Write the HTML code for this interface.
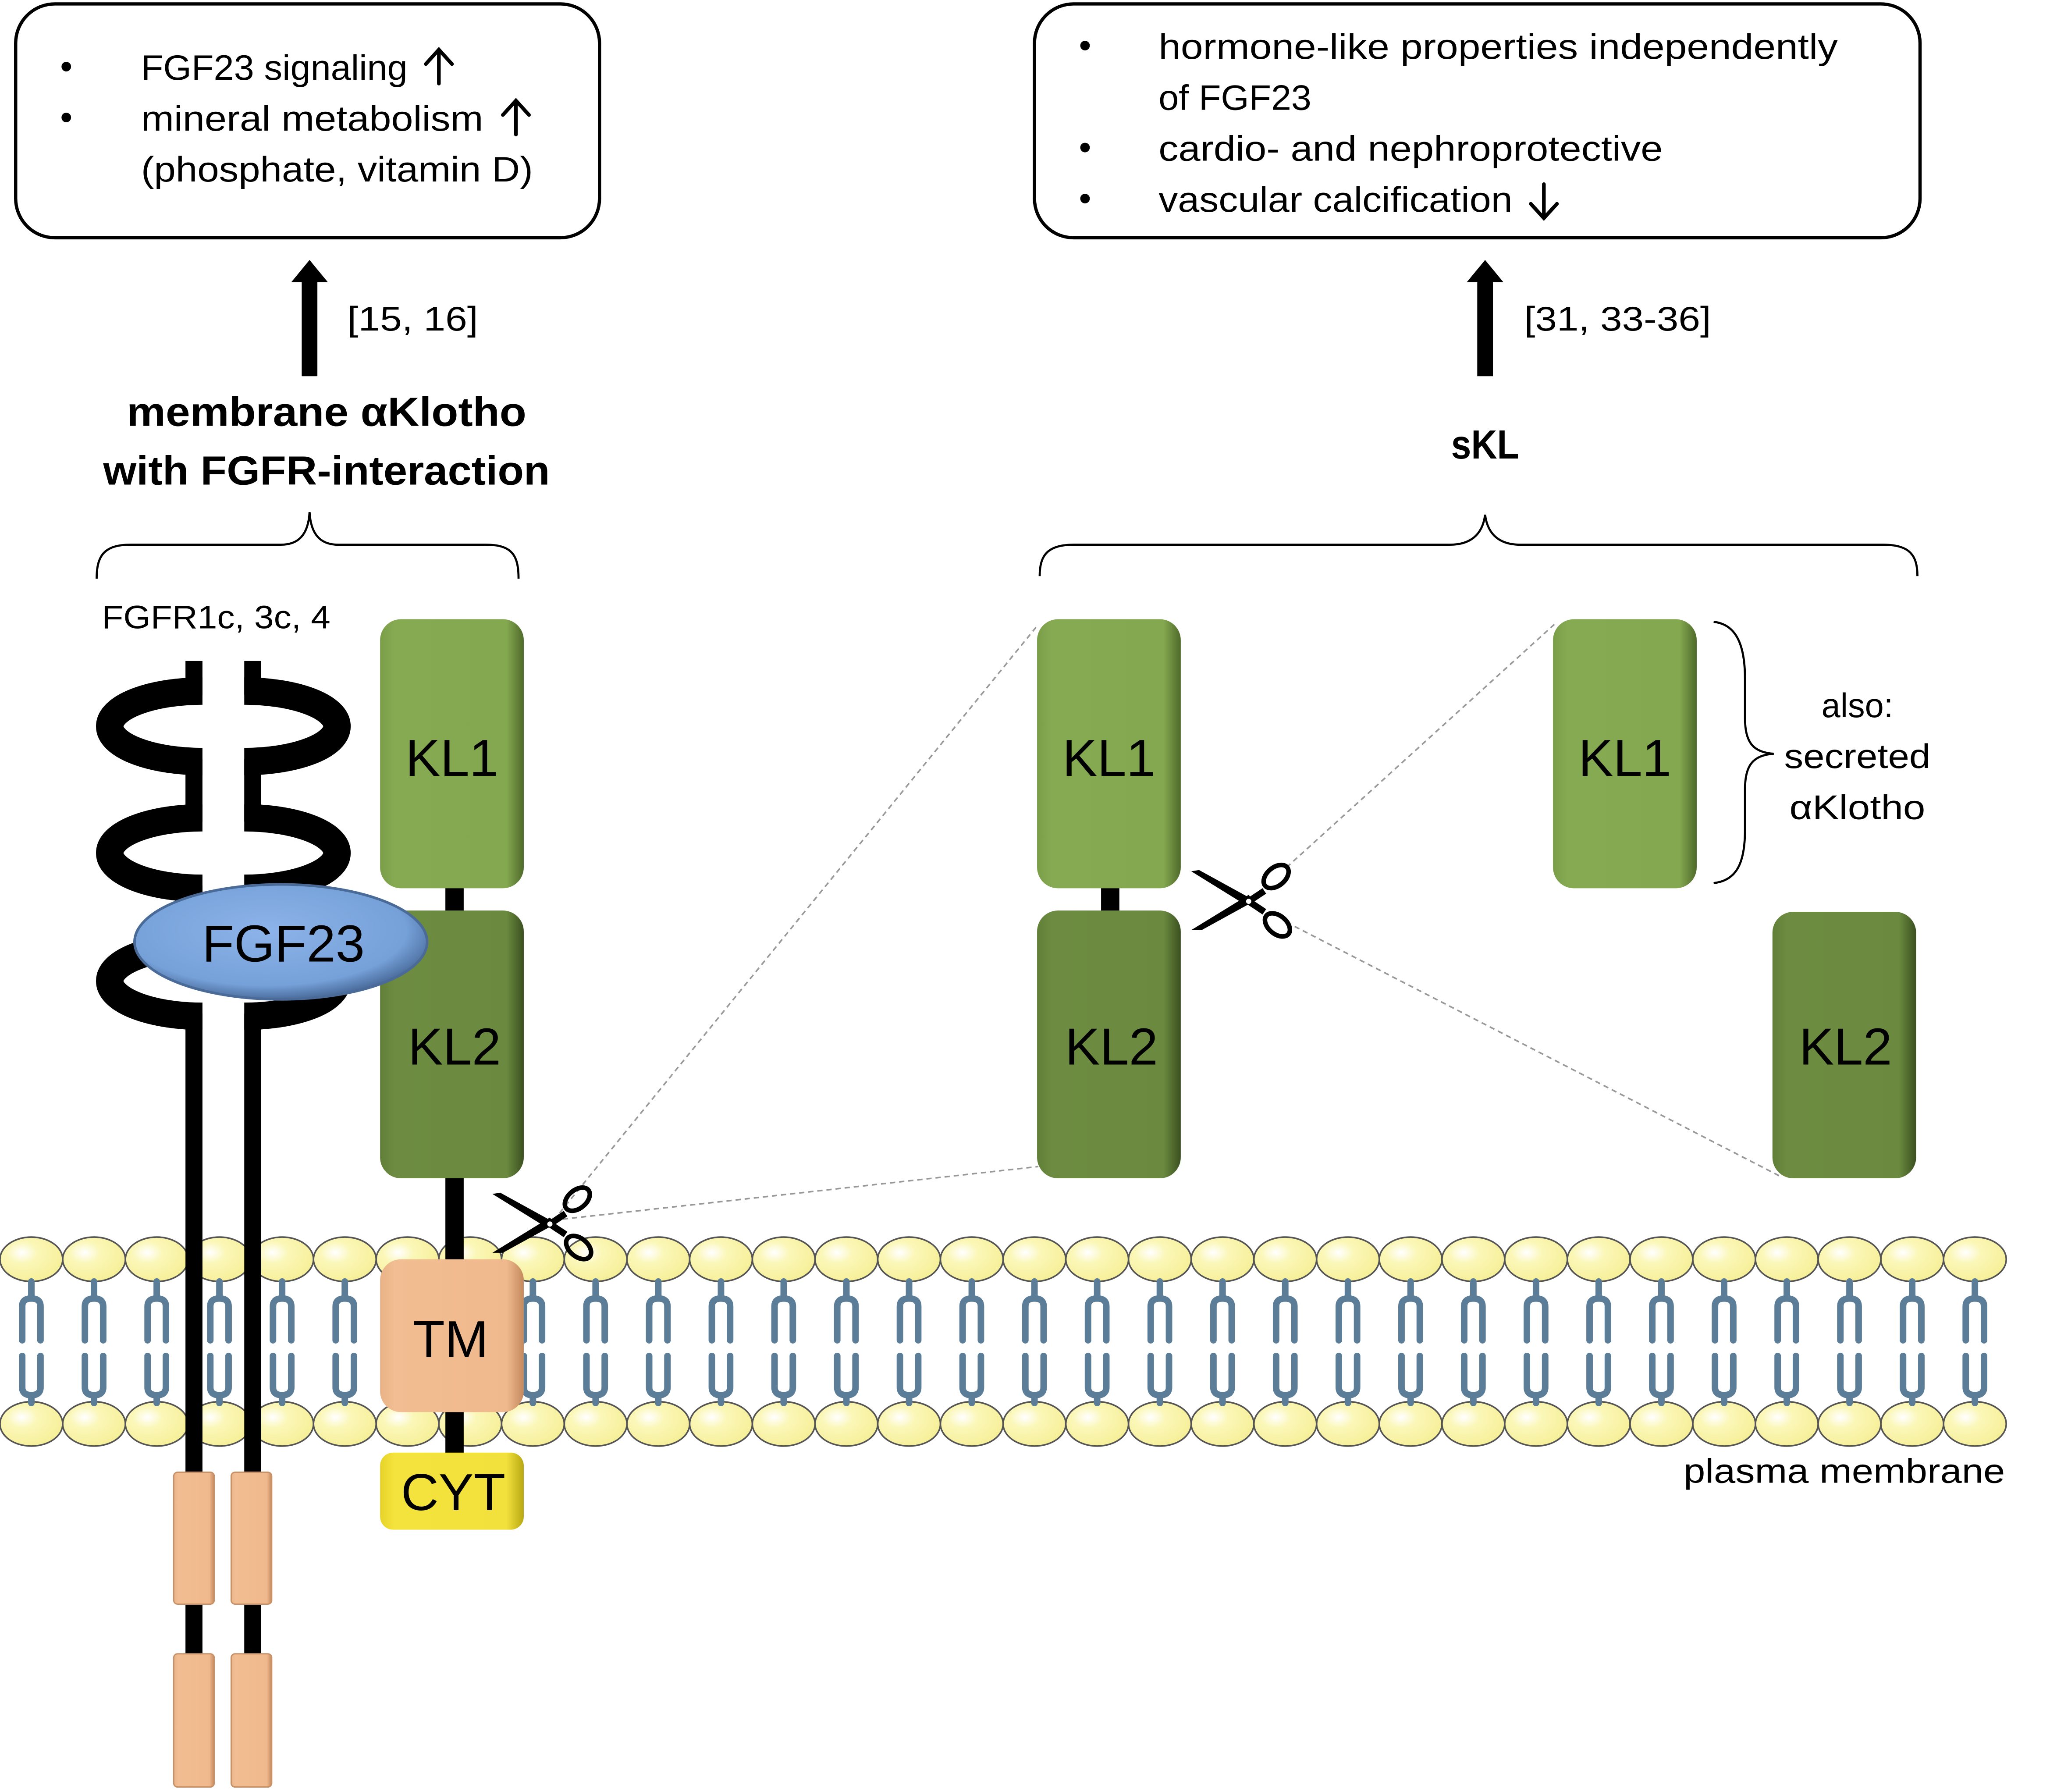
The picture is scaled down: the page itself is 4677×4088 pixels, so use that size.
<!DOCTYPE html>
<html><head><meta charset="utf-8"><style>
html,body{margin:0;padding:0;background:#fff;}
svg{display:block;}
text{font-family:"Liberation Sans",sans-serif;fill:#000;}
</style></head><body>
<svg xmlns="http://www.w3.org/2000/svg" width="4677" height="4088" viewBox="0 0 1569.5 1371.8" preserveAspectRatio="none">
<defs>
<linearGradient id="gl" x1="0" y1="0" x2="1" y2="0"><stop offset="0" stop-color="#7a9d48"/><stop offset="0.1" stop-color="#86aa52"/><stop offset="0.88" stop-color="#84a850"/><stop offset="1" stop-color="#4f6a2a"/></linearGradient>
<linearGradient id="gd" x1="0" y1="0" x2="1" y2="0"><stop offset="0" stop-color="#617f38"/><stop offset="0.1" stop-color="#6d8c41"/><stop offset="0.88" stop-color="#6b8a3f"/><stop offset="1" stop-color="#3b5020"/></linearGradient>
<linearGradient id="gt" x1="0" y1="0" x2="1" y2="0"><stop offset="0" stop-color="#e9b287"/><stop offset="0.1" stop-color="#f2bd92"/><stop offset="0.88" stop-color="#f0b98d"/><stop offset="1" stop-color="#c48a5e"/></linearGradient>
<linearGradient id="gy" x1="0" y1="0" x2="1" y2="0"><stop offset="0" stop-color="#e6d42a"/><stop offset="0.1" stop-color="#f5e33d"/><stop offset="0.88" stop-color="#f2e03c"/><stop offset="1" stop-color="#b8a812"/></linearGradient>
<radialGradient id="gb" cx="0.45" cy="0.4" r="0.6"><stop offset="0" stop-color="#8db4ea"/><stop offset="0.8" stop-color="#75a0d8"/><stop offset="1" stop-color="#4c6e9e"/></radialGradient>
<radialGradient id="gh" cx="0.35" cy="0.35" r="0.7"><stop offset="0" stop-color="#ffffff"/><stop offset="0.35" stop-color="#fbf7b8"/><stop offset="1" stop-color="#f6ef98"/></radialGradient>
<g id="lip">
<ellipse cx="0" cy="964" rx="24" ry="17" fill="url(#gh)" stroke="#555" stroke-width="1.2"/>
<ellipse cx="0" cy="1090" rx="24" ry="17" fill="url(#gh)" stroke="#555" stroke-width="1.2"/>
<g fill="none" stroke="#5b7d98" stroke-width="5" stroke-linecap="round">
<path d="M0 981 V994 M-7 1026 V1000 Q-7 994 0 994 Q7 994 7 1000 V1026"/>
<path d="M-7 1038 V1062 Q-7 1068 0 1068 Q7 1068 7 1062 V1038 M0 1068 V1074"/>
</g>
</g>
<g id="sc">
<path d="M-44 -23 L-38 -24 L2 -2 L-2 3 Z" fill="#000"/>
<path d="M-44 22 L-36 22 L4 0 L0 -5 Z" fill="#000"/>
<path d="M0 0 L12 -8 M0 0 L12 8" stroke="#000" stroke-width="5"/>
<ellipse cx="21" cy="-19" rx="11" ry="7" transform="rotate(-40 21 -19)" fill="none" stroke="#000" stroke-width="3.5"/>
<ellipse cx="22" cy="18" rx="11" ry="7" transform="rotate(40 22 18)" fill="none" stroke="#000" stroke-width="3.5"/>
<circle cx="0" cy="0" r="2" fill="#fff"/>
</g>
</defs>

<!-- top boxes -->
<rect x="12" y="3" width="447" height="179" rx="30" fill="#fff" stroke="#000" stroke-width="2.5"/>
<rect x="792" y="3" width="678" height="179" rx="30" fill="#fff" stroke="#000" stroke-width="2.5"/>
<g font-size="27">
<text x="46" y="60">•</text><text x="46" y="99">•</text>
<text x="108" y="61" textLength="204" lengthAdjust="spacingAndGlyphs">FGF23 signaling</text>
<text x="108" y="100" textLength="262" lengthAdjust="spacingAndGlyphs">mineral metabolism</text>
<text x="108" y="139" textLength="300" lengthAdjust="spacingAndGlyphs">(phosphate, vitamin D)</text>
<text x="826" y="44">•</text><text x="826" y="122">•</text><text x="826" y="161">•</text>
<text x="887" y="45" textLength="520" lengthAdjust="spacingAndGlyphs">hormone-like properties independently</text>
<text x="887" y="84" textLength="117" lengthAdjust="spacingAndGlyphs">of FGF23</text>
<text x="887" y="123" textLength="386" lengthAdjust="spacingAndGlyphs">cardio- and nephroprotective</text>
<text x="887" y="162" textLength="271" lengthAdjust="spacingAndGlyphs">vascular calcification</text>
</g>
<g fill="none" stroke="#000" stroke-width="2.8" stroke-linecap="round">
<path d="M336 64 V39 M326 49 L336 38 L346 49"/>
<path d="M395 103 V78 M385 88 L395 77 L405 88"/>
<path d="M1182 141 V166 M1172 156 L1182 167 L1192 156"/>
</g>

<!-- big arrows -->
<rect x="231" y="214" width="12" height="74" fill="#000"/>
<path d="M223 216 L237 199 L251 216 Z" fill="#000"/>
<rect x="1131" y="214" width="12" height="74" fill="#000"/>
<path d="M1123 216 L1137 199 L1151 216 Z" fill="#000"/>
<text x="266" y="253" font-size="26" textLength="100" lengthAdjust="spacingAndGlyphs">[15, 16]</text>
<text x="1167" y="253" font-size="26" textLength="143" lengthAdjust="spacingAndGlyphs">[31, 33-36]</text>

<text x="250" y="326" font-size="31" font-weight="bold" text-anchor="middle" textLength="306" lengthAdjust="spacingAndGlyphs">membrane αKlotho</text>
<text x="250" y="371" font-size="31" font-weight="bold" text-anchor="middle" textLength="342" lengthAdjust="spacingAndGlyphs">with FGFR-interaction</text>
<text x="1137" y="351" font-size="31" font-weight="bold" text-anchor="middle" textLength="52" lengthAdjust="spacingAndGlyphs">sKL</text>

<!-- braces -->
<g fill="none" stroke="#000" stroke-width="1.6">
<path d="M74 443 C74 425 80 417 100 417 H215 C228 417 236 410 237 392 C238 410 246 417 259 417 H372 C392 417 397 425 397 443"/>
<path d="M796 441 C796 425 802 417 822 417 H1110 C1125 417 1135 410 1137 394 C1139 410 1149 417 1164 417 H1442 C1462 417 1468 425 1468 441"/>
<path d="M1312 476 C1330 478 1336 495 1336 520 V550 C1336 568 1342 576 1358 577 C1342 578 1336 586 1336 604 V635 C1336 660 1330 674 1312 676"/>
</g>
<text x="1422" y="549" font-size="26" text-anchor="middle">also:</text>
<text x="1422" y="588" font-size="26" text-anchor="middle" textLength="112" lengthAdjust="spacingAndGlyphs">secreted</text>
<text x="1422" y="627" font-size="26" text-anchor="middle" textLength="104" lengthAdjust="spacingAndGlyphs">αKlotho</text>
<text x="78" y="481" font-size="25" textLength="175" lengthAdjust="spacingAndGlyphs">FGFR1c, 3c, 4</text>

<!-- dotted lines -->
<g stroke="#999" stroke-width="1.2" stroke-dasharray="4 3" fill="none">
<path d="M424 934 L795 478"/><path d="M424 934 L795 893"/>
<path d="M985 664 L1190 478"/><path d="M985 706 L1362 900"/>
</g>

<!-- membrane -->
<g>
<use href="#lip" x="24"/><use href="#lip" x="72"/><use href="#lip" x="120"/><use href="#lip" x="168"/><use href="#lip" x="216"/><use href="#lip" x="264"/><use href="#lip" x="312"/><use href="#lip" x="360"/><use href="#lip" x="408"/><use href="#lip" x="456"/><use href="#lip" x="504"/><use href="#lip" x="552"/><use href="#lip" x="600"/><use href="#lip" x="648"/><use href="#lip" x="696"/><use href="#lip" x="744"/><use href="#lip" x="792"/><use href="#lip" x="840"/><use href="#lip" x="888"/><use href="#lip" x="936"/><use href="#lip" x="984"/><use href="#lip" x="1032"/><use href="#lip" x="1080"/><use href="#lip" x="1128"/><use href="#lip" x="1176"/><use href="#lip" x="1224"/><use href="#lip" x="1272"/><use href="#lip" x="1320"/><use href="#lip" x="1368"/><use href="#lip" x="1416"/><use href="#lip" x="1464"/><use href="#lip" x="1512"/>
</g>
<text x="1535" y="1135" font-size="26" text-anchor="end" textLength="246" lengthAdjust="spacingAndGlyphs">plasma membrane</text>

<!-- FGFR receptors -->
<g fill="#000">
<rect x="142" y="506" width="13" height="26"/><rect x="187" y="506" width="13" height="26"/>
<rect x="142" y="581" width="13" height="48"/><rect x="187" y="581" width="13" height="48"/>
<rect x="142" y="678" width="13" height="48"/><rect x="187" y="678" width="13" height="48"/>
<rect x="142" y="776" width="13" height="355"/><rect x="187" y="776" width="13" height="355"/>
<rect x="142" y="1227" width="13" height="42"/><rect x="187" y="1227" width="13" height="42"/>
</g>
<g fill="none" stroke="#000" stroke-width="21">
<path d="M155 529 A71 27 0 0 0 155 583"/><path d="M187 529 A71 27 0 0 1 187 583"/>
<path d="M155 626 A71 27 0 0 0 155 680"/><path d="M187 626 A71 27 0 0 1 187 680"/>
<path d="M155 724 A71 27 0 0 0 155 778"/><path d="M187 724 A71 27 0 0 1 187 778"/>
</g>
<g fill="url(#gt)" stroke="#c89066" stroke-width="1">
<rect x="133" y="1127" width="31" height="101" rx="3"/><rect x="177" y="1127" width="31" height="101" rx="3"/>
<rect x="133" y="1266" width="31" height="102" rx="3"/><rect x="177" y="1266" width="31" height="102" rx="3"/>
</g>

<!-- membrane klotho -->
<rect x="341" y="678" width="14" height="22" fill="#000"/>
<rect x="341" y="900" width="14" height="66" fill="#000"/>
<rect x="341" y="1080" width="14" height="34" fill="#000"/>
<rect x="291" y="474" width="110" height="206" rx="16" fill="url(#gl)"/>
<rect x="291" y="697" width="110" height="205" rx="16" fill="url(#gd)"/>
<rect x="291" y="964" width="110" height="117" rx="16" fill="url(#gt)"/>
<rect x="291" y="1112" width="110" height="59" rx="10" fill="url(#gy)"/>
<ellipse cx="215" cy="721" rx="112" ry="44" fill="url(#gb)" stroke="#4a6a98" stroke-width="2"/>
<g font-size="40" text-anchor="middle">
<text x="346" y="594">KL1</text>
<text x="348" y="815">KL2</text>
<text x="217" y="736">FGF23</text>
<text x="345" y="1039">TM</text>
<text x="347" y="1156">CYT</text>
</g>

<!-- middle klotho -->
<rect x="843" y="678" width="14" height="22" fill="#000"/>
<rect x="794" y="474" width="110" height="206" rx="16" fill="url(#gl)"/>
<rect x="794" y="697" width="110" height="205" rx="16" fill="url(#gd)"/>
<text x="849" y="594" font-size="40" text-anchor="middle">KL1</text>
<text x="851" y="815" font-size="40" text-anchor="middle">KL2</text>

<!-- right fragments -->
<rect x="1189" y="474" width="110" height="206" rx="16" fill="url(#gl)"/>
<rect x="1357" y="698" width="110" height="204" rx="16" fill="url(#gd)"/>
<text x="1244" y="594" font-size="40" text-anchor="middle">KL1</text>
<text x="1413" y="815" font-size="40" text-anchor="middle">KL2</text>

<!-- scissors -->
<use href="#sc" x="421" y="937"/>
<use href="#sc" x="956" y="690"/>
</svg>
</body></html>
